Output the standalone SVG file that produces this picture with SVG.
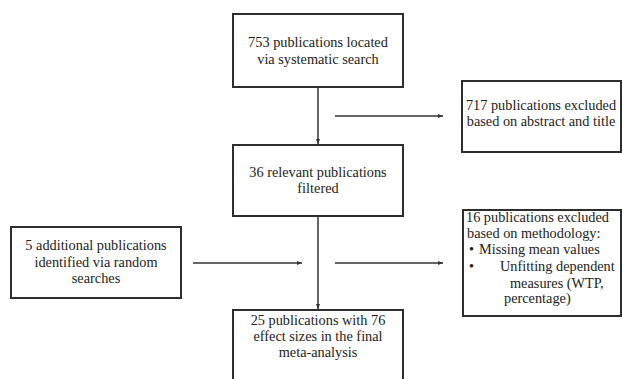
<svg xmlns="http://www.w3.org/2000/svg" width="622" height="379" viewBox="0 0 622 379">
  <style>
    .box { fill: #ffffff; stroke: #2e2e2e; stroke-width: 2; }
    .conn { stroke: #333333; stroke-width: 1.5; fill: none; }
    .t { font-family: "Liberation Serif", "Times New Roman", serif; font-size: 14.3px; fill: #222222; }
    .c { text-anchor: middle; }
  </style>
  <defs>
    <marker id="arrow" viewBox="0 0 10 10" refX="10" refY="5" markerWidth="5" markerHeight="5" orient="auto" markerUnits="userSpaceOnUse">
      <path d="M0,1 L10,5 L0,9 z" fill="#333333"/>
    </marker>
  </defs>
  <rect width="622" height="379" fill="#ffffff"/>

  <!-- flow connectors -->
  <g id="connectors">
    <line class="conn" x1="318" y1="87" x2="318" y2="144" marker-end="url(#arrow)"/>
    <line class="conn" x1="335" y1="116" x2="443" y2="116" marker-end="url(#arrow)"/>
    <line class="conn" x1="318" y1="216" x2="318" y2="309" marker-end="url(#arrow)"/>
    <line class="conn" x1="193" y1="263" x2="302" y2="263" marker-end="url(#arrow)"/>
    <line class="conn" x1="335" y1="263" x2="443" y2="263" marker-end="url(#arrow)"/>
  </g>

  <g id="search">
    <rect class="box" x="233" y="14" width="170" height="73"/>
    <text class="t c" x="318" y="47">753 publications located</text>
    <text class="t c" x="318" y="64">via systematic search</text>
  </g>

  <g id="excluded-abstract">
    <rect class="box" x="462" y="81" width="159" height="71"/>
    <text class="t c" x="541" y="110">717 publications excluded</text>
    <text class="t c" x="541" y="126">based on abstract and title</text>
  </g>

  <g id="relevant">
    <rect class="box" x="233" y="145" width="170" height="71"/>
    <text class="t c" x="318" y="177">36 relevant publications</text>
    <text class="t c" x="318" y="193">filtered</text>
  </g>

  <g id="additional">
    <rect class="box" x="11" y="227" width="170" height="71"/>
    <text class="t c" x="96" y="250">5 additional publications</text>
    <text class="t c" x="96" y="267">identified via random</text>
    <text class="t c" x="96" y="283">searches</text>
  </g>

  <g id="excluded-method">
    <rect class="box" x="463" y="210" width="158" height="106"/>
    <text class="t" x="466" y="222">16 publications excluded</text>
    <text class="t" x="467" y="238">based on methodology:</text>
    <text class="t" x="469" y="254">•</text>
    <text class="t" x="479" y="254">Missing mean values</text>
    <text class="t" x="469" y="271">•</text>
    <text class="t" x="500" y="271">Unfitting dependent</text>
    <text class="t" x="510" y="288">measures (WTP,</text>
    <text class="t" x="504" y="303">percentage)</text>
  </g>

  <g id="final">
    <rect class="box" x="233" y="310" width="170" height="80"/>
    <text class="t c" x="318" y="325">25 publications with 76</text>
    <text class="t c" x="318" y="341">effect sizes in the final</text>
    <text class="t c" x="318" y="357">meta-analysis</text>
  </g>
</svg>
